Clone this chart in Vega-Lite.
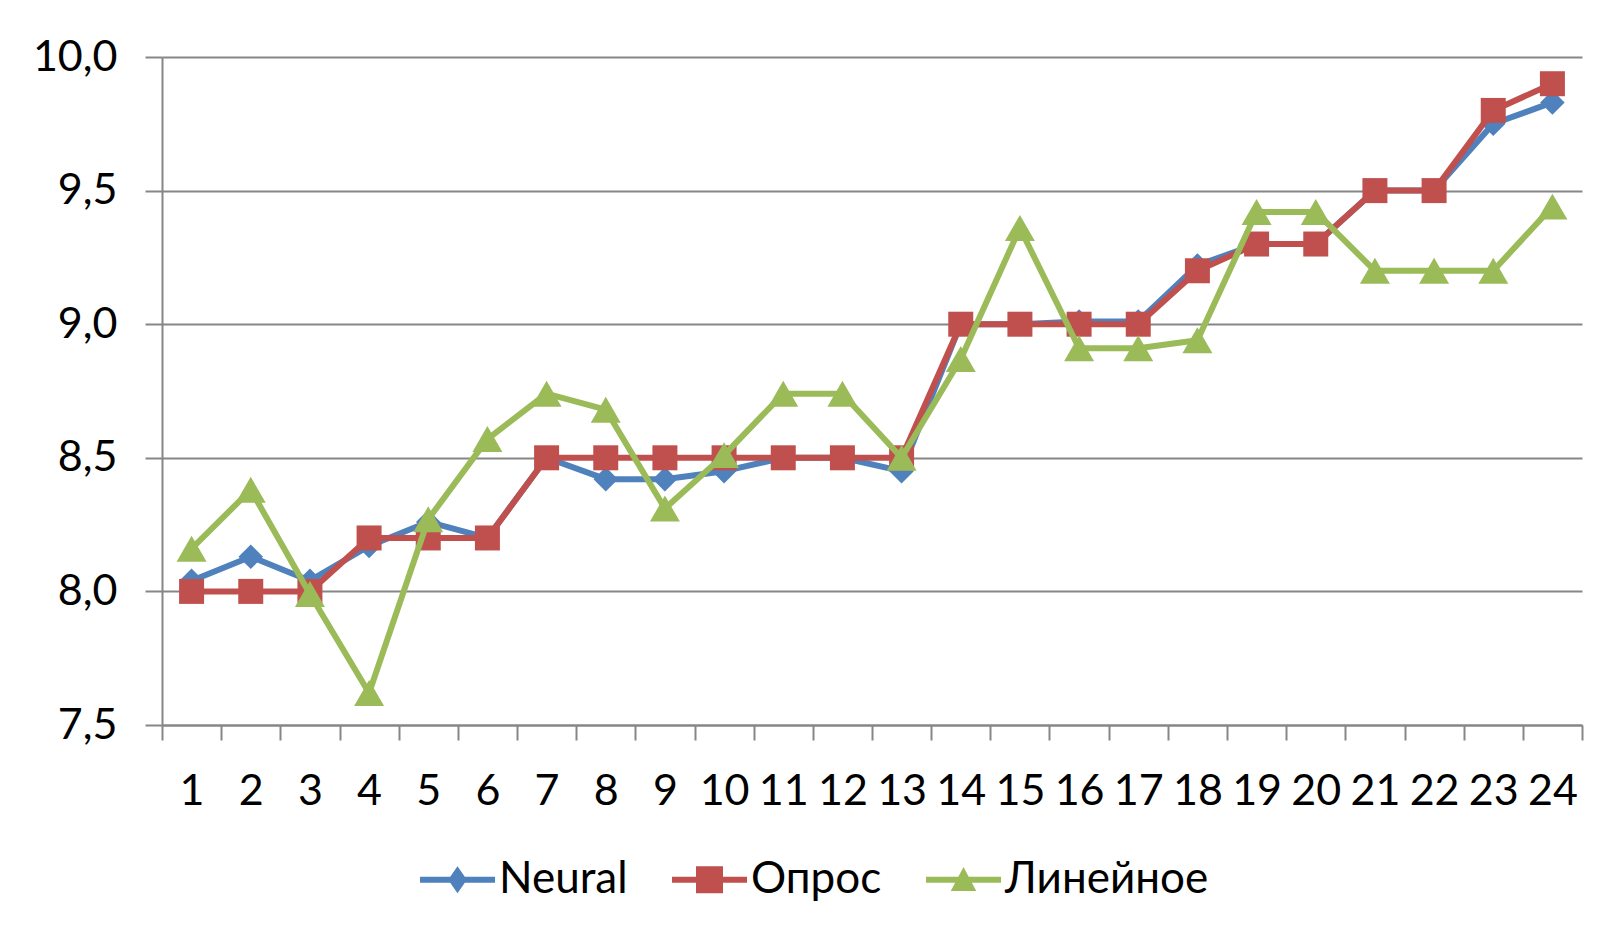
{
  "$schema": "https://vega.github.io/schema/vega-lite/v6.json",
  "width": 1420,
  "height": 668,
  "autosize": {"type": "none"},
  "padding": {"left": 162, "top": 57, "right": 24, "bottom": 211},
  "background": "white",
  "config": {"font": "Lato", "view": {"stroke": null}},
  "data": {"values": [
    {"i": 1, "s": "Neural", "v": 8.04}, {"i": 2, "s": "Neural", "v": 8.13}, {"i": 3, "s": "Neural", "v": 8.04}, {"i": 4, "s": "Neural", "v": 8.17},
    {"i": 5, "s": "Neural", "v": 8.26}, {"i": 6, "s": "Neural", "v": 8.2}, {"i": 7, "s": "Neural", "v": 8.5}, {"i": 8, "s": "Neural", "v": 8.42},
    {"i": 9, "s": "Neural", "v": 8.42}, {"i": 10, "s": "Neural", "v": 8.45}, {"i": 11, "s": "Neural", "v": 8.5}, {"i": 12, "s": "Neural", "v": 8.5},
    {"i": 13, "s": "Neural", "v": 8.45}, {"i": 14, "s": "Neural", "v": 9.0}, {"i": 15, "s": "Neural", "v": 9.0}, {"i": 16, "s": "Neural", "v": 9.01},
    {"i": 17, "s": "Neural", "v": 9.01}, {"i": 18, "s": "Neural", "v": 9.22}, {"i": 19, "s": "Neural", "v": 9.3}, {"i": 20, "s": "Neural", "v": 9.3},
    {"i": 21, "s": "Neural", "v": 9.5}, {"i": 22, "s": "Neural", "v": 9.5}, {"i": 23, "s": "Neural", "v": 9.75}, {"i": 24, "s": "Neural", "v": 9.83},
    {"i": 1, "s": "Опрос", "v": 8.0}, {"i": 2, "s": "Опрос", "v": 8.0}, {"i": 3, "s": "Опрос", "v": 8.0}, {"i": 4, "s": "Опрос", "v": 8.2},
    {"i": 5, "s": "Опрос", "v": 8.2}, {"i": 6, "s": "Опрос", "v": 8.2}, {"i": 7, "s": "Опрос", "v": 8.5}, {"i": 8, "s": "Опрос", "v": 8.5},
    {"i": 9, "s": "Опрос", "v": 8.5}, {"i": 10, "s": "Опрос", "v": 8.5}, {"i": 11, "s": "Опрос", "v": 8.5}, {"i": 12, "s": "Опрос", "v": 8.5},
    {"i": 13, "s": "Опрос", "v": 8.5}, {"i": 14, "s": "Опрос", "v": 9.0}, {"i": 15, "s": "Опрос", "v": 9.0}, {"i": 16, "s": "Опрос", "v": 9.0},
    {"i": 17, "s": "Опрос", "v": 9.0}, {"i": 18, "s": "Опрос", "v": 9.2}, {"i": 19, "s": "Опрос", "v": 9.3}, {"i": 20, "s": "Опрос", "v": 9.3},
    {"i": 21, "s": "Опрос", "v": 9.5}, {"i": 22, "s": "Опрос", "v": 9.5}, {"i": 23, "s": "Опрос", "v": 9.8}, {"i": 24, "s": "Опрос", "v": 9.9},
    {"i": 1, "s": "Линейное", "v": 8.16}, {"i": 2, "s": "Линейное", "v": 8.38}, {"i": 3, "s": "Линейное", "v": 7.99}, {"i": 4, "s": "Линейное", "v": 7.62},
    {"i": 5, "s": "Линейное", "v": 8.27}, {"i": 6, "s": "Линейное", "v": 8.57}, {"i": 7, "s": "Линейное", "v": 8.74}, {"i": 8, "s": "Линейное", "v": 8.68},
    {"i": 9, "s": "Линейное", "v": 8.31}, {"i": 10, "s": "Линейное", "v": 8.51}, {"i": 11, "s": "Линейное", "v": 8.74}, {"i": 12, "s": "Линейное", "v": 8.74},
    {"i": 13, "s": "Линейное", "v": 8.5}, {"i": 14, "s": "Линейное", "v": 8.87}, {"i": 15, "s": "Линейное", "v": 9.36}, {"i": 16, "s": "Линейное", "v": 8.91},
    {"i": 17, "s": "Линейное", "v": 8.91}, {"i": 18, "s": "Линейное", "v": 8.94}, {"i": 19, "s": "Линейное", "v": 9.42}, {"i": 20, "s": "Линейное", "v": 9.42},
    {"i": 21, "s": "Линейное", "v": 9.2}, {"i": 22, "s": "Линейное", "v": 9.2}, {"i": 23, "s": "Линейное", "v": 9.2}, {"i": 24, "s": "Линейное", "v": 9.44}
  ]},
  "encoding": {
    "x": {
      "field": "i", "type": "ordinal",
      "scale": {"type": "band", "paddingInner": 0, "paddingOuter": 0},
      "axis": {
        "title": null, "labelAngle": 0, "tickBand": "extent", "grid": false,
        "domainColor": "#868686", "domainWidth": 2, "tickColor": "#868686", "tickWidth": 2, "tickSize": 15,
        "labelFont": "Lato", "labelFontSize": 43, "labelColor": "#000000", "labelPadding": 30, "labelBaseline": "top"
      }
    },
    "y": {
      "field": "v", "type": "quantitative",
      "scale": {"domain": [7.5, 10], "nice": false, "zero": false},
      "axis": {
        "title": null, "values": [7.5, 8, 8.5, 9, 9.5, 10],
        "labelExpr": "replace(format(datum.value, '.1f'), '.', ',')",
        "grid": true, "gridColor": "#868686", "gridWidth": 2,
        "domainColor": "#868686", "domainWidth": 2, "tickColor": "#868686", "tickWidth": 2, "tickSize": 17,
        "labelFont": "Lato", "labelFontSize": 43, "labelColor": "#000000", "labelPadding": 28
      }
    },
    "color": {
      "field": "s", "type": "nominal",
      "scale": {"domain": ["Neural", "Опрос", "Линейное"], "range": ["#4F81BD", "#C0504D", "#9BBB59"]},
      "legend": {
        "title": null, "orient": "none", "direction": "horizontal", "legendX": 258, "legendY": 785,
        "symbolSize": 5625, "labelFont": "Lato", "labelFontSize": 44, "labelColor": "#000000",
        "labelOffset": 4, "columnPadding": 44, "padding": 0, "labelLimit": 400, "labelBaseline": "middle",
        "encode": {
          "symbols": {
            "update": {
              "shape": {"signal": "datum.value === 'Neural' ? 'M-1,-0.08L1,-0.08L1,0.08L-1,0.08ZM0,-0.36L0.25,0L0,0.36L-0.25,0Z' : datum.value === 'Опрос' ? 'M-1,-0.08L1,-0.08L1,0.08L-1,0.08ZM-0.36,-0.36L0.36,-0.36L0.36,0.36L-0.36,0.36Z' : 'M-1,-0.08L1,-0.08L1,0.08L-1,0.08ZM0,-0.34L0.34,0.3L-0.34,0.3Z'"},
              "fill": {"signal": "datum.value === 'Neural' ? '#4F81BD' : datum.value === 'Опрос' ? '#C0504D' : '#9BBB59'"},
              "stroke": {"value": "transparent"},
              "strokeWidth": {"value": 0},
              "size": {"value": 5625},
              "opacity": {"value": 1},
              "fillOpacity": {"value": 1}
            }
          }
        }
      }
    }
  },
  "layer": [
    {"transform": [{"filter": "datum.s === 'Neural'"}], "mark": {"type": "line", "strokeWidth": 6, "strokeJoin": "round"}},
    {"transform": [{"filter": "datum.s === 'Neural'"}], "mark": {"type": "point", "shape": "diamond", "filled": true, "size": 600, "opacity": 1}},
    {"transform": [{"filter": "datum.s === 'Опрос'"}], "mark": {"type": "line", "strokeWidth": 6, "strokeJoin": "round"}},
    {"transform": [{"filter": "datum.s === 'Опрос'"}], "mark": {"type": "point", "shape": "square", "filled": true, "size": 625, "opacity": 1}},
    {"transform": [{"filter": "datum.s === 'Линейное'"}], "mark": {"type": "line", "strokeWidth": 6, "strokeJoin": "round"}},
    {"transform": [{"filter": "datum.s === 'Линейное'"}], "mark": {"type": "point", "shape": "triangle-up", "filled": true, "size": 900, "opacity": 1}}
  ]
}
